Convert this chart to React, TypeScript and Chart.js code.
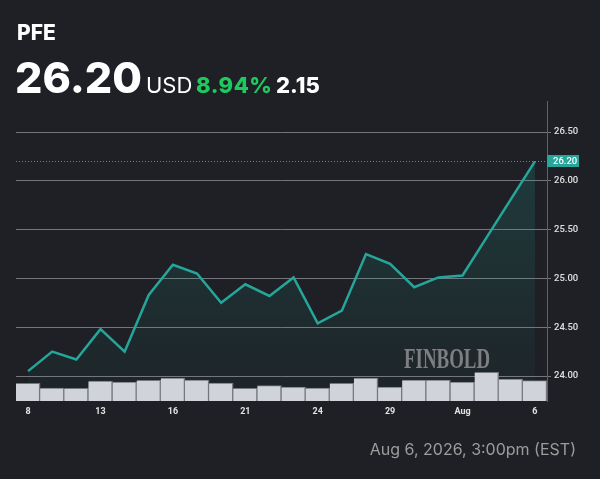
import React, { useEffect, useRef } from "react";
import { Chart, registerables } from "chart.js";

Chart.register(...registerables);

const categories = [
  "Jul 8", "Jul 9", "Jul 10", "Jul 13", "Jul 14", "Jul 15", "Jul 16", "Jul 17",
  "Jul 20", "Jul 21", "Jul 22", "Jul 23", "Jul 24", "Jul 27", "Jul 28", "Jul 29",
  "Jul 30", "Jul 31", "Aug 3", "Aug 4", "Aug 5", "Aug 6",
];
const xTickLabels = [
  "8", "", "", "13", "", "", "16", "", "", "21", "", "", "24", "", "", "29",
  "", "", "Aug", "", "", "6",
];
const prices = [
  24.05, 24.25, 24.17, 24.48, 24.25, 24.83, 25.14, 25.05, 24.75, 24.94, 24.82,
  25.01, 24.54, 24.67, 25.25, 25.15, 24.91, 25.01, 25.03, 25.42, 25.81, 26.2,
];
// volume in millions of shares
const volumes = [
  35.4, 26, 25.4, 40, 38, 41.4, 46, 42, 36, 25.4, 30.6, 28, 26, 35.4, 46, 28,
  42, 42, 38, 57.4, 44, 40.6,
];
const priceTicks = [24, 24.5, 25, 25.5, 26, 26.5];

const TEAL = "#26a69a";
const BG = "#1e2025";

const lastPricePlugin = {
  id: "lastPrice",
  afterDraw(chart: any) {
    const { ctx, chartArea, scales } = chart;
    const last = prices[prices.length - 1];
    const y = Math.round(scales.y.getPixelForValue(last)) + 0.5;
    ctx.save();
    ctx.strokeStyle = TEAL;
    ctx.lineWidth = 1;
    ctx.setLineDash([1, 2]);
    ctx.beginPath();
    ctx.moveTo(chartArea.left, y);
    ctx.lineTo(chartArea.right, y);
    ctx.stroke();
    ctx.setLineDash([]);
    ctx.beginPath();
    ctx.moveTo(chartArea.right, y);
    ctx.lineTo(chartArea.right + 4, y);
    ctx.stroke();
    ctx.fillStyle = TEAL;
    ctx.fillRect(chartArea.right, y - 6.5, 32, 12);
    ctx.fillStyle = "#ffffff";
    ctx.font = "500 9.5px Roboto";
    ctx.textBaseline = "middle";
    ctx.textAlign = "left";
    ctx.fillText(last.toFixed(2), chartArea.right + 6, y);
    ctx.restore();
  },
};

export default function App() {
  const ref = useRef<HTMLCanvasElement | null>(null);

  useEffect(() => {
    document.body.style.margin = "0";
    document.body.style.background = BG;
    const canvas = ref.current;
    if (!canvas) return;
    const chart = new Chart(canvas, {
      type: "bar",
      data: {
        labels: categories,
        datasets: [
          {
            type: "bar",
            label: "Volume",
            data: volumes,
            yAxisID: "vol",
            backgroundColor: "#d1d3da",
            borderColor: "#75767c",
            borderWidth: { top: 1, right: 1.5, left: 0, bottom: 0 },
            borderSkipped: false,
            barPercentage: 1,
            categoryPercentage: 1,
            order: 0,
          } as any,
          {
            type: "line",
            label: "PFE",
            data: prices,
            yAxisID: "y",
            borderColor: TEAL,
            borderWidth: 2.5,
            pointRadius: 0,
            tension: 0,
            fill: "start",
            backgroundColor: (c: any) => {
              const area = c.chart.chartArea;
              if (!area) return "rgba(38,166,154,0.12)";
              const g = c.chart.ctx.createLinearGradient(0, area.top, 0, area.bottom);
              g.addColorStop(0, "rgba(38,166,154,0.24)");
              g.addColorStop(1, "rgba(38,166,154,0.03)");
              return g;
            },
            order: 1,
          } as any,
        ],
      },
      options: {
        animation: false,
        responsive: false,
        maintainAspectRatio: false,
        layout: { padding: { left: 16, top: 101, right: 0, bottom: 58 } },
        plugins: { legend: { display: false }, tooltip: { enabled: false } },
        scales: {
          x: {
            offset: true,
            grid: { display: false, drawTicks: false },
            border: { display: false },
            ticks: {
              autoSkip: false,
              maxRotation: 0,
              padding: 5,
              color: "#e2e2e2",
              font: { family: "Roboto", size: 9, weight: "bold" },
              callback: (_v: any, i: number) => xTickLabels[i],
            },
            afterFit: (s: any) => {
              s.height = 20;
            },
          },
          y: {
            position: "right",
            min: 23.744,
            max: 26.818,
            afterBuildTicks: (s: any) => {
              s.ticks = priceTicks.map((v) => ({ value: v }));
            },
            grid: { color: "#74767b", lineWidth: 1, tickLength: 4 },
            border: { display: true, color: "#5f6166" },
            ticks: {
              padding: 3,
              color: "#e0e0e0",
              font: { family: "Roboto", size: 9.5, weight: 500 },
              callback: (v: any) => Number(v).toFixed(2),
            },
            afterFit: (s: any) => {
              s.width = 53;
            },
          },
          vol: {
            display: false,
            min: 0,
            max: 600,
          },
        },
      },
      plugins: [lastPricePlugin],
    });
    return () => chart.destroy();
  }, []);

  return (
    <div
      style={{
        position: "fixed",
        left: 0,
        top: 0,
        width: 600,
        height: 479,
        background: BG,
        overflow: "hidden",
        fontFamily: "Inter, 'Noto Sans', sans-serif",
      }}
    >
      <canvas ref={ref} width={600} height={479} style={{ position: "absolute", left: 0, top: 0, width: 600, height: 479 }} />
      <div style={{ position: "absolute", left: 17, top: 22, fontSize: 21, lineHeight: 1, fontWeight: 800, color: "#ffffff" }}>PFE</div>
      <div style={{ position: "absolute", left: 15, top: 56, fontSize: 43, lineHeight: 1, fontWeight: 800, color: "#ffffff" }}>26.20</div>
      <div style={{ position: "absolute", left: 146, top: 74, fontSize: 22, lineHeight: 1, fontWeight: 400, color: "#ffffff" }}>USD</div>
      <div style={{ position: "absolute", left: 196, top: 74, fontSize: 22, lineHeight: 1, fontWeight: 800, color: "#1ec95e", letterSpacing: 0.5 }}>8.94%</div>
      <div style={{ position: "absolute", left: 276, top: 74, fontSize: 22, lineHeight: 1, fontWeight: 800, color: "#ffffff" }}>2.15</div>
      <div
        style={{
          position: "absolute",
          left: 404,
          top: 343,
          fontSize: 30,
          lineHeight: 1,
          fontWeight: 700,
          color: "#7e7f83",
          fontFamily: "'Liberation Serif', 'DejaVu Serif', serif",
          transform: "scaleX(0.63)",
          transformOrigin: "left top",
          whiteSpace: "nowrap",
        }}
      >
        FINBOLD
      </div>
      <div style={{ position: "absolute", right: 24, top: 441, fontSize: 16, lineHeight: 1, fontWeight: 400, color: "#9c9c9c", whiteSpace: "nowrap" }}>
        Aug 6, 2026, 3:00pm (EST)
      </div>
    </div>
  );
}
